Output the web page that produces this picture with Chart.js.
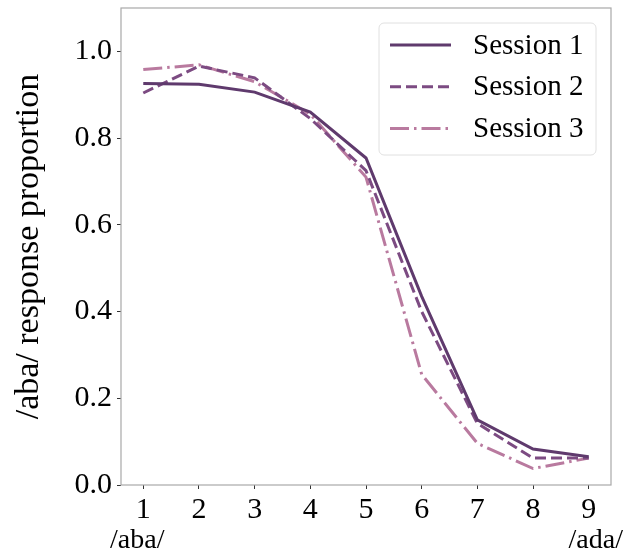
<!DOCTYPE html>
<html>
<head>
<meta charset="utf-8">
<script src="https://cdn.jsdelivr.net/npm/chart.js@4"></script>
<style>
  html, body { margin: 0; padding: 0; background: #fff; }
  #wrap { width: 630px; height: 555px; }
</style>
</head>
<body>
<div id="wrap"><canvas id="c" width="630" height="555"></canvas></div>
<script>
// ---- data ----
const stimuli = [1, 2, 3, 4, 5, 6, 7, 8, 9];
const session1 = [0.926, 0.924, 0.906, 0.860, 0.754, 0.435, 0.150, 0.083, 0.065];
const session2 = [0.904, 0.966, 0.939, 0.845, 0.725, 0.400, 0.142, 0.062, 0.062];
const session3 = [0.958, 0.969, 0.930, 0.855, 0.710, 0.255, 0.096, 0.038, 0.062];
const seriesLabels = ['Session 1', 'Session 2', 'Session 3'];
const yTicks = [0.0, 0.2, 0.4, 0.6, 0.8, 1.0];
const xEndLabels = ['/aba/', '/ada/'];
const yTitle = '/aba/ response proportion';

const FONT = '"Liberation Serif", "Times New Roman", Times, serif';
const colors = ['#5f3a6d', '#7c4b82', '#b97a9f'];
const dashes = [[], [11, 5], [19, 5, 2.5, 5]];

const toPts = arr => arr.map((v, i) => ({ x: stimuli[i], y: v }));

const frame = {
  id: 'frame',
  afterDraw(chart) {
    const { ctx, chartArea: a } = chart;
    ctx.save();
    ctx.strokeStyle = '#a8a8a8';
    ctx.lineWidth = 1.2;
    ctx.strokeRect(a.left, a.top, a.right - a.left, a.bottom - a.top);
    ctx.restore();
  }
};

// x-axis end labels (continuum endpoints), placed like a matplotlib xlabel
const endLabels = {
  id: 'endLabels',
  afterDraw(chart) {
    const { ctx, chartArea: a } = chart;
    const y = chart.scales.x.bottom - 14;
    ctx.save();
    ctx.font = '28px ' + FONT;
    ctx.fillStyle = '#000';
    ctx.textBaseline = 'middle';
    ctx.textAlign = 'left';
    ctx.fillText(xEndLabels[0], a.left - 11, y);
    ctx.textAlign = 'right';
    ctx.fillText(xEndLabels[1], a.right + 12, y);
    ctx.restore();
  }
};

const innerLegend = {
  id: 'innerLegend',
  afterDraw(chart) {
    const { ctx, chartArea: a } = chart;
    const w = 217, h = 132, r = 5;
    const x0 = a.right - 15 - w, y0 = a.top + 15;
    ctx.save();
    ctx.beginPath();
    ctx.moveTo(x0 + r, y0);
    ctx.arcTo(x0 + w, y0, x0 + w, y0 + h, r);
    ctx.arcTo(x0 + w, y0 + h, x0, y0 + h, r);
    ctx.arcTo(x0, y0 + h, x0, y0, r);
    ctx.arcTo(x0, y0, x0 + w, y0, r);
    ctx.closePath();
    ctx.fillStyle = 'rgba(255,255,255,0.85)';
    ctx.fill();
    ctx.strokeStyle = '#e0e0e0';
    ctx.lineWidth = 1;
    ctx.stroke();
    ctx.font = '29px ' + FONT;
    ctx.textBaseline = 'middle';
    ctx.textAlign = 'left';
    chart.data.datasets.forEach((ds, i) => {
      const cy = y0 + 22 + i * 41.7;
      ctx.beginPath();
      ctx.setLineDash(ds.borderDash || []);
      ctx.strokeStyle = ds.borderColor;
      ctx.lineWidth = ds.borderWidth;
      ctx.lineCap = 'butt';
      ctx.moveTo(x0 + 11, cy);
      ctx.lineTo(x0 + 72, cy);
      ctx.stroke();
      ctx.setLineDash([]);
      ctx.fillStyle = '#000';
      ctx.fillText(ds.label, x0 + 94, cy + 1);
    });
    ctx.restore();
  }
};

new Chart(document.getElementById('c'), {
  type: 'line',
  data: {
    datasets: [session1, session2, session3].map((s, i) => ({
      label: seriesLabels[i],
      data: toPts(s),
      borderColor: colors[i],
      backgroundColor: colors[i],
      borderWidth: 3,
      borderDash: dashes[i],
      borderCapStyle: 'butt',
      pointRadius: 0,
      tension: 0,
      fill: false
    }))
  },
  options: {
    responsive: false,
    animation: false,
    layout: { padding: { left: 0, right: 19, top: 8, bottom: 0 } },
    plugins: { legend: { display: false }, tooltip: { enabled: false } },
    scales: {
      x: {
        type: 'linear',
        min: 0.6, max: 9.4,
        afterBuildTicks: s => { s.ticks = stimuli.map(v => ({ value: v })); },
        afterFit: s => { s.height = 70; s.paddingLeft = 0; s.paddingRight = 0; },
        grid: { drawOnChartArea: false, drawTicks: true, tickLength: 4, tickColor: '#333', lineWidth: 1 },
        border: { display: false },
        ticks: { color: '#000', font: { family: FONT, size: 30 }, padding: 3, maxRotation: 0, autoSkip: false,
                 callback: v => String(v) },
        title: { display: false }
      },
      y: {
        min: 0, max: 1.1,
        afterBuildTicks: s => { s.ticks = yTicks.map(v => ({ value: v })); },
        afterFit: s => { s.width = 121; s.paddingTop = 0; s.paddingBottom = 0; },
        grid: { drawOnChartArea: false, drawTicks: true, tickLength: 4, tickColor: '#333', lineWidth: 1 },
        border: { display: false },
        ticks: { color: '#000', font: { family: FONT, size: 30 }, padding: 5,
                 callback: v => v.toFixed(1) },
        title: {
          display: true,
          text: yTitle,
          color: '#000',
          font: { family: FONT, size: 34, lineHeight: 1.2 },
          padding: { top: 9, bottom: 0 }
        }
      }
    }
  },
  plugins: [frame, endLabels, innerLegend]
});
</script>
</body>
</html>
